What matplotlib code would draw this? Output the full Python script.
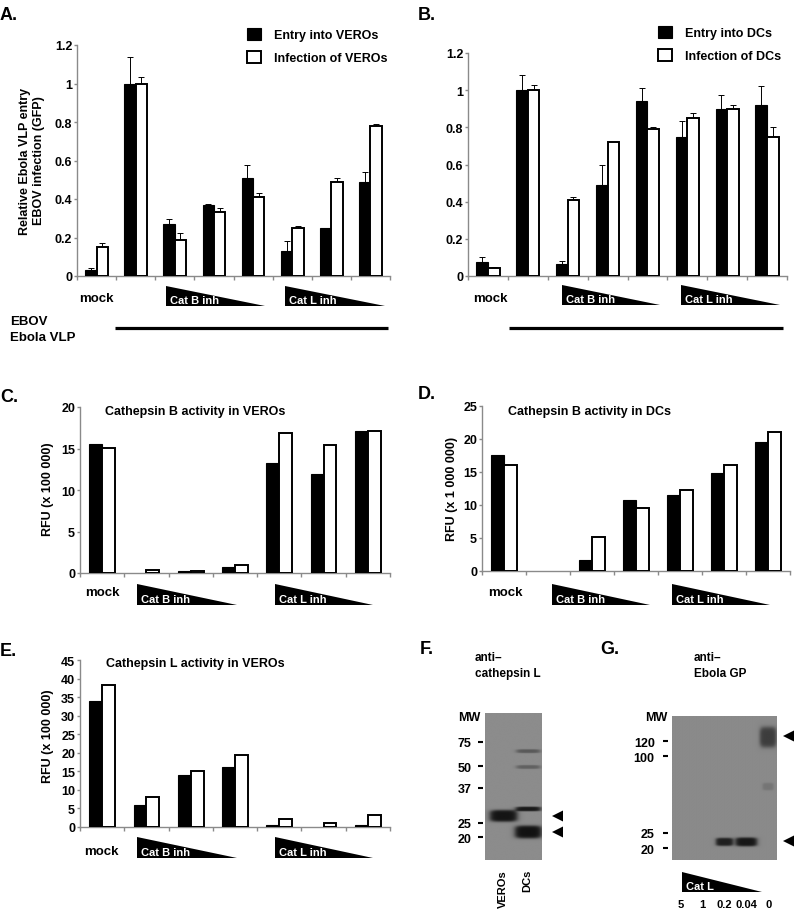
import numpy as np
import matplotlib.pyplot as plt
from matplotlib.patches import Polygon

plt.rcParams['font.family'] = ['Liberation Sans', 'DejaVu Sans']
plt.rcParams['font.weight'] = 'bold'

W, H = 800, 912

# A. entry / infection in VEROs (mock, VLP, Cat B inh x3, Cat L inh x3)
vero_entry = [0.03, 1.0, 0.27, 0.37, 0.51, 0.13, 0.25, 0.49]
vero_entry_err = [0.01, 0.14, 0.025, 0.005, 0.065, 0.05, 0.0, 0.05]
vero_infect = [0.15, 1.0, 0.185, 0.335, 0.41, 0.25, 0.49, 0.78]
vero_infect_err = [0.02, 0.035, 0.04, 0.02, 0.02, 0.01, 0.02, 0.01]

# B. entry / infection in DCs
dc_entry = [0.075, 1.0, 0.065, 0.49, 0.94, 0.75, 0.90, 0.92]
dc_entry_err = [0.025, 0.08, 0.015, 0.11, 0.07, 0.085, 0.075, 0.105]
dc_infect = [0.045, 1.0, 0.41, 0.72, 0.79, 0.85, 0.90, 0.75]
dc_infect_err = [0.005, 0.03, 0.015, 0.0, 0.01, 0.025, 0.02, 0.05]

# C-E. protease activity (mock, Cat B inh x3, Cat L inh x3), two replicates
catb_vero_1 = [15.5, 0, 0.2, 0.7, 13.3, 11.9, 17.1]
catb_vero_2 = [15.1, 0.4, 0.25, 1.0, 16.9, 15.4, 17.1]
catb_dc_1 = [17.6, 0, 1.6, 10.8, 11.5, 14.8, 19.6]
catb_dc_2 = [16.1, 0, 5.2, 9.5, 12.2, 16.1, 21.0]
catl_vero_1 = [34, 6, 14, 16.3, 0.6, 0, 0.6]
catl_vero_2 = [38.3, 8, 15, 19.4, 2.1, 1.0, 3.3]

# F. anti-cathepsin L blot
f_lanes = ['VEROs', 'DCs']
f_ladder_mw = [75, 50, 37, 25, 20]
f_ladder_pos = [0.197, 0.361, 0.51, 0.748, 0.844]   # fraction of gel height
# (lane, position, thickness, width, darkness)
f_bands = [(0, 0.70, 0.078, 1.1, 0.47),
           (1, 0.259, 0.025, 0.95, 0.2),
           (1, 0.367, 0.025, 0.95, 0.17),
           (1, 0.653, 0.03, 1.0, 0.45),
           (1, 0.81, 0.085, 1.07, 0.48)]

# G. anti-Ebola GP blot, Cat L dose
g_lanes = ['5', '1', '0.2', '0.04', '0']
g_ladder_mw = [120, 100, 25, 20]
g_ladder_pos = [0.174, 0.278, 0.81, 0.917]
g_bands = [(2, 0.875, 0.055, 0.78, 0.42),
           (3, 0.875, 0.06, 0.98, 0.45),
           (4, 0.146, 0.14, 0.75, 0.3),
           (4, 0.49, 0.05, 0.5, 0.08)]

fig = plt.figure(figsize=(W / 100, H / 100), dpi=100)
ov = fig.add_axes([0, 0, 1, 1])
ov.set_xlim(0, W)
ov.set_ylim(H, 0)
ov.axis('off')


def px_axes(l, t, r, b):
    return fig.add_axes([l / W, 1 - b / H, (r - l) / W, (b - t) / H])


def bar_panel(rect, s1, s2, ymax, step, e1=None, e2=None, labels=None, leg=None):
    ax = px_axes(*rect)
    x = np.arange(len(s1))
    w = 0.29
    b1 = ax.bar(x - w / 2, s1, w, color='black', edgecolor='black', lw=0.8, zorder=3)
    b2 = ax.bar(x + w / 2, s2, w, color='white', edgecolor='black', lw=1.4, zorder=3)
    for p in list(b1) + list(b2):
        if p.get_height() == 0:
            p.set_visible(False)
    if e1 is not None:
        ax.errorbar(x - w / 2, s1, yerr=[np.zeros(len(x)), e1], fmt='none',
                    ecolor='black', elinewidth=0.7, capsize=2, capthick=0.7, zorder=2)
        ax.errorbar(x + w / 2, s2, yerr=[np.zeros(len(x)), e2], fmt='none',
                    ecolor='black', elinewidth=0.7, capsize=2, capthick=0.7, zorder=2)
    ax.set_xlim(-0.5, len(x) - 0.5)
    ax.set_ylim(0, ymax)
    yt = np.arange(0, ymax + step / 2, step)
    ax.set_yticks(yt)
    ax.set_yticklabels([f'{v:g}' for v in yt])
    ax.set_xticks(np.arange(len(x) + 1) - 0.5)
    ax.set_xticklabels([])
    for s in ['top', 'right']:
        ax.spines[s].set_visible(False)
    for s in ['left', 'bottom']:
        ax.spines[s].set_color('#8a8a8a')
        ax.spines[s].set_linewidth(1.0)
    ax.tick_params(axis='y', colors='#8a8a8a', labelcolor='black', length=2.5,
                   width=1, labelsize=9, pad=1)
    ax.tick_params(axis='x', colors='#8a8a8a', length=3, width=1)
    ax.patch.set_alpha(0)
    if leg is not None:
        ax.legend([b1, b2], labels, loc='upper left', frameon=False,
                  bbox_to_anchor=(leg[0] / W, 1 - leg[1] / H),
                  bbox_transform=fig.transFigure, borderaxespad=0, borderpad=0,
                  fontsize=9, handlelength=1.15, handleheight=1.1,
                  handletextpad=1.0, labelspacing=0.75)
    return ax


def wedge(x0, x1, y0, y1, label, fs=8):
    ov.add_patch(Polygon([(x0, y0), (x0, y1), (x1, y1)], closed=True,
                         facecolor='black', lw=0))
    ov.text(x0 + 4, y1 - 2.5, label, color='white', fontsize=fs,
            fontweight='bold', ha='left', va='baseline')


def arrow(x0, x1, yc):
    ov.add_patch(Polygon([(x0, yc), (x1, yc - 5.5), (x1, yc + 5.5)], closed=True,
                         facecolor='black', lw=0))


def gel(rect, xlim, bands, ladder_mw, ladder_pos, lanes, bg, tick_out, tick_pad,
        lane_pad, lane_rot):
    ax = px_axes(*rect)
    xs = np.linspace(xlim[0], xlim[1], 240)
    ys = np.linspace(0, 1, 480)
    X, Y = np.meshgrid(xs, ys)
    img = np.full(X.shape, bg)
    for lane, pos, thick, width, dark in bands:
        r = ((np.abs(X - lane) / (width / 2)) ** 4 + (np.abs(Y - pos) / (thick / 2)) ** 4) ** 0.25
        img -= dark / (1 + np.exp(-(1 - r) / 0.12))
    ax.imshow(img, extent=(xlim[0], xlim[1], 1, 0), cmap='gray', vmin=0, vmax=1,
              aspect='auto', interpolation='bilinear')
    ax.set_xlim(*xlim)
    ax.set_ylim(1, 0)
    for s in ax.spines.values():
        s.set_visible(False)
    ax.spines['left'].set_position(('outward', tick_out))
    ax.set_yticks(ladder_pos)
    ax.set_yticklabels([str(m) for m in ladder_mw])
    ax.tick_params(axis='y', length=3.5, width=1.5, color='black', labelsize=9,
                   pad=tick_pad)
    ax.set_xticks(np.arange(len(lanes)))
    ax.set_xticklabels(lanes, rotation=lane_rot)
    ax.tick_params(axis='x', length=0, labelsize=8, pad=lane_pad)
    return ax


# A
bar_panel((77, 46, 390, 277), vero_entry, vero_infect, 1.2, 0.2,
          vero_entry_err, vero_infect_err,
          ['Entry into VEROs', 'Infection of VEROs'], leg=(247, 29))
ov.text(0, 15, 'A.', fontsize=13, va='center')
ov.text(32, 161, 'Relative Ebola VLP entry\nEBOV infection (GFP)', rotation=90,
        ha='center', va='center', fontsize=9, multialignment='center', linespacing=1.2)
ov.text(96, 299, 'mock', ha='center', va='center', fontsize=9.5)
wedge(166, 265, 287, 307, 'Cat B inh')
wedge(285, 385, 287, 307, 'Cat L inh')
ov.text(10, 322, 'EBOV', ha='left', va='center', fontsize=9.5)
ov.text(10, 338, 'Ebola VLP', ha='left', va='center', fontsize=9.5)
ov.plot([115, 388], [329, 329], color='black', lw=2.3, solid_capstyle='butt')

# B
bar_panel((468, 54, 787, 277), dc_entry, dc_infect, 1.2, 0.2,
          dc_entry_err, dc_infect_err,
          ['Entry into DCs', 'Infection of DCs'], leg=(658, 27))
ov.text(418, 15, 'B.', fontsize=13, va='center')
ov.text(490, 299, 'mock', ha='center', va='center', fontsize=9.5)
wedge(562, 660, 286, 306, 'Cat B inh')
wedge(681, 780, 286, 306, 'Cat L inh')
ov.plot([509, 783], [329, 329], color='black', lw=2.3, solid_capstyle='butt')

# C
bar_panel((80, 408, 390, 574), catb_vero_1, catb_vero_2, 20, 5)
ov.text(0, 398, 'C.', fontsize=13, va='center')
ov.text(105, 412, 'Cathepsin B activity in VEROs', fontsize=9, va='center')
ov.text(48, 489, 'RFU (x 100 000)', rotation=90, ha='center', va='center', fontsize=9)
ov.text(102, 593, 'mock', ha='center', va='center', fontsize=9.5)
wedge(137, 237, 585, 606, 'Cat B inh')
wedge(275, 373, 585, 606, 'Cat L inh')

# D
bar_panel((482, 407, 790, 572), catb_dc_1, catb_dc_2, 25, 5)
ov.text(418, 395, 'D.', fontsize=13, va='center')
ov.text(508, 412, 'Cathepsin B activity in DCs', fontsize=9, va='center')
ov.text(452, 489, 'RFU (x 1 000 000)', rotation=90, ha='center', va='center', fontsize=9)
ov.text(505, 593, 'mock', ha='center', va='center', fontsize=9.5)
wedge(552, 650, 585, 606, 'Cat B inh')
wedge(672, 770, 585, 606, 'Cat L inh')

# E
bar_panel((80, 661, 390, 828), catl_vero_1, catl_vero_2, 45, 5)
ov.text(0, 652, 'E.', fontsize=13, va='center')
ov.text(106, 664, 'Cathepsin L activity in VEROs', fontsize=9, va='center')
ov.text(48, 736, 'RFU (x 100 000)', rotation=90, ha='center', va='center', fontsize=9)
ov.text(101, 852, 'mock', ha='center', va='center', fontsize=9.5)
wedge(137, 237, 838, 859, 'Cat B inh')
wedge(275, 373, 838, 859, 'Cat L inh')

# F
gel((485, 714, 541, 861), (-0.75, 1.55), f_bands, f_ladder_mw, f_ladder_pos,
    f_lanes, 0.55, 1.5, 4.5, 6.5, 90)
ov.text(420, 650, 'F.', fontsize=13, va='center')
ov.text(475, 666, 'anti–\ncathepsin L', fontsize=8.5, va='center', linespacing=1.5)
ov.text(458, 718, 'MW', fontsize=9, va='center')
arrow(552, 563, 817)
arrow(552, 563, 833)

# G
gel((672, 717, 777, 861), (-0.4, 4.4), g_bands, g_ladder_mw, g_ladder_pos,
    g_lanes, 0.54, 3, 6, 28, 0)
ov.text(600, 650, 'G.', fontsize=13, va='center')
ov.text(694, 666, 'anti–\nEbola GP', fontsize=8.5, va='center', linespacing=1.5)
ov.text(645, 718, 'MW', fontsize=9, va='center')
wedge(682, 762, 873, 893, 'Cat L', fs=8)
arrow(783, 794, 737)
arrow(783, 794, 842)

fig.savefig('out.png', dpi=100)
